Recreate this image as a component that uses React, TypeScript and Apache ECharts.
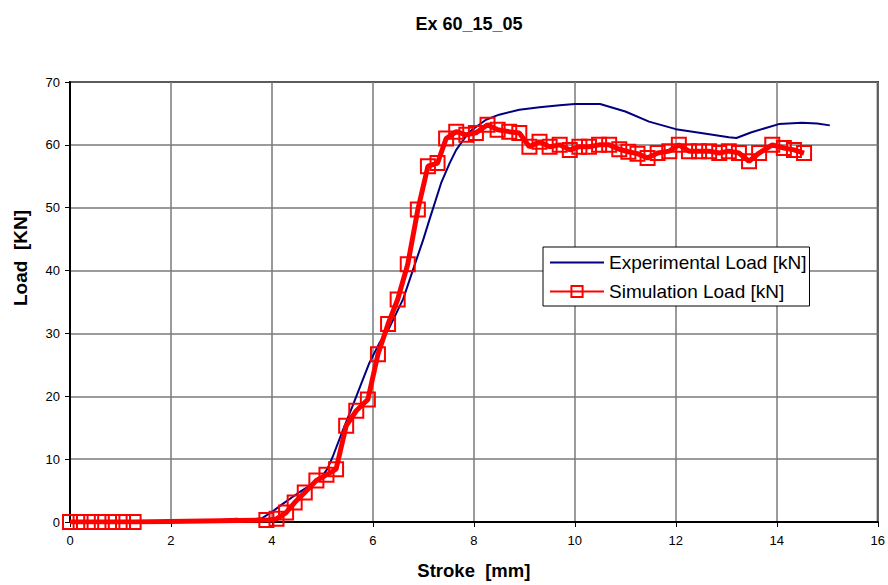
import React, { useEffect, useRef } from "react";
import * as echarts from "echarts";

const chartTitle = "Ex 60_15_05";
const xAxisTitle = "Stroke  [mm]";
const yAxisTitle = "Load  [KN]";
const expName = "Experimental Load [kN]";
const simName = "Simulation Load [kN]";

const expX = [0, 0.5, 1, 1.5, 2, 2.5, 3, 3.3, 3.5, 3.8, 4.0, 4.2, 4.5, 4.75, 5.0, 5.1, 5.2, 5.4, 5.6, 5.75, 5.93, 6.13, 6.3, 6.45, 6.6, 6.86, 7.0, 7.12, 7.35, 7.52, 7.65, 7.9, 8.24, 8.5, 8.9, 9.3, 9.7, 10.0, 10.5, 11.0, 11.47, 12.0, 12.5, 13.05, 13.2, 13.5, 14.04, 14.5, 14.8, 15.05];
const expY = [0, 0.1, 0, 0.1, 0.2, 0.3, 0.3, 0.5, 0.3, 0.6, 1.6, 2.8, 4.5, 5.8, 7.3, 8.5, 10.3, 14.5, 18.5, 21.6, 25.3, 28.5, 30.5, 33, 35.5, 41.7, 45, 48.1, 53.9, 57.1, 59.2, 62, 64.0, 64.8, 65.6, 66.0, 66.3, 66.5, 66.5, 65.3, 63.7, 62.5, 61.9, 61.2, 61.1, 62.0, 63.3, 63.5, 63.4, 63.1];

const simX = [0, 0.21, 0.42, 0.63, 0.84, 1.05, 1.26, 3.89, 4.09, 4.28, 4.45, 4.65, 4.88, 5.08, 5.27, 5.47, 5.67, 5.9, 6.1, 6.3, 6.49, 6.69, 6.89, 7.09, 7.28, 7.45, 7.65, 7.85, 8.04, 8.27, 8.47, 8.7, 8.9, 9.1, 9.3, 9.5, 9.7, 9.9, 10.09, 10.28, 10.48, 10.68, 10.88, 11.06, 11.24, 11.44, 11.64, 11.87, 12.06, 12.26, 12.46, 12.66, 12.86, 13.05, 13.25, 13.45, 13.65, 13.91, 14.14, 14.34, 14.54];
const simY = [0, 0, 0, 0, 0, 0, 0, 0.3, 0.5, 1.5, 3.1, 4.7, 6.6, 7.5, 8.4, 15.3, 17.7, 19.5, 26.7, 31.5, 35.4, 41.0, 49.7, 56.6, 57.1, 61.0, 62.1, 61.6, 61.9, 63.2, 62.4, 62.1, 61.9, 59.7, 60.5, 59.7, 60.0, 59.2, 59.7, 59.7, 60.0, 60.0, 59.3, 58.9, 58.6, 57.9, 58.7, 59.0, 60.0, 59.0, 59.0, 59.0, 58.7, 59.0, 58.7, 57.4, 58.7, 60.0, 59.5, 59.2, 58.7];

const FONT = 'Arial, "Liberation Sans", sans-serif';

export default function App() {
  const ref = useRef<HTMLDivElement>(null);
  useEffect(() => {
    if (!ref.current) return;
    const chart = echarts.init(ref.current, null, { renderer: "svg" });
    chart.setOption({
      animation: false,
      backgroundColor: "#ffffff",
      title: {
        text: chartTitle,
        left: 464,
        top: 10,
        textAlign: "center",
        textStyle: { fontFamily: FONT, fontSize: 18, fontWeight: "bold", color: "#000" },
      },
      graphic: [
        {
          type: "text",
          x: 20,
          y: 258,
          rotation: Math.PI / 2,
          style: {
            text: yAxisTitle,
            fontFamily: FONT,
            fontSize: 19,
            fontWeight: "bold",
            fill: "#000",
            align: "center",
            verticalAlign: "middle",
          },
        },
      ],
      grid: {
        left: 70,
        top: 82,
        right: 9,
        bottom: 62,
        show: true,
        borderColor: "#000",
        borderWidth: 2,
        backgroundColor: "#fff",
      },
      legend: {
        orient: "vertical",
        left: 543,
        top: 247,
        backgroundColor: "#fff",
        borderColor: "#000",
        borderWidth: 1,
        borderRadius: 0,
        padding: [6, 3, 5, 6],
        itemWidth: 54,
        itemHeight: 14,
        itemGap: 10,
        textStyle: { fontFamily: FONT, fontSize: 19, color: "#000" },
        data: [
          { name: expName, itemStyle: { color: "rgba(0,0,0,0)", borderWidth: 0 } },
          { name: simName },
        ],
      },
      xAxis: {
        type: "value",
        min: 0,
        max: 16,
        interval: 2,
        name: xAxisTitle,
        nameLocation: "middle",
        nameGap: 39,
        nameTextStyle: { fontFamily: FONT, fontSize: 18.5, fontWeight: "bold", color: "#000" },
        axisLine: { show: true, onZero: false, lineStyle: { color: "#000", width: 2 } },
        axisTick: { show: true, inside: false, length: 5, lineStyle: { color: "#000" } },
        axisLabel: { fontFamily: FONT, fontSize: 13, color: "#000", margin: 12 },
        splitLine: { show: true, lineStyle: { color: "#7a7a7a", width: 1.5 } },
      },
      yAxis: {
        type: "value",
        min: 0,
        max: 70,
        interval: 10,
        axisLine: { show: true, onZero: false, lineStyle: { color: "#000", width: 2 } },
        axisTick: { show: true, inside: false, length: 5, lineStyle: { color: "#000" } },
        axisLabel: { fontFamily: FONT, fontSize: 13, color: "#000", margin: 10 },
        splitLine: { show: true, lineStyle: { color: "#7a7a7a", width: 1.5 } },
      },
      series: [
        {
          name: expName,
          type: "line",
          data: expX.map((x, i) => [x, expY[i]]),
          showSymbol: false,
          symbol: "none",
          lineStyle: { color: "#000080", width: 2 },
          itemStyle: { color: "#000080" },
          z: 2,
        },
        {
          name: simName,
          type: "line",
          data: simX.map((x, i) => [x, simY[i]]),
          symbol: "rect",
          symbolSize: 14,
          showAllSymbol: true,
          lineStyle: { color: "#ff0000", width: 5 },
          itemStyle: { color: "rgba(255,255,255,0)", borderColor: "#ff0000", borderWidth: 2 },
          z: 3,
        },
      ],
    });
    return () => chart.dispose();
  }, []);
  return (
    <div
      ref={ref}
      style={{ position: "fixed", left: 0, top: 0, width: 888, height: 585 }}
    />
  );
}
